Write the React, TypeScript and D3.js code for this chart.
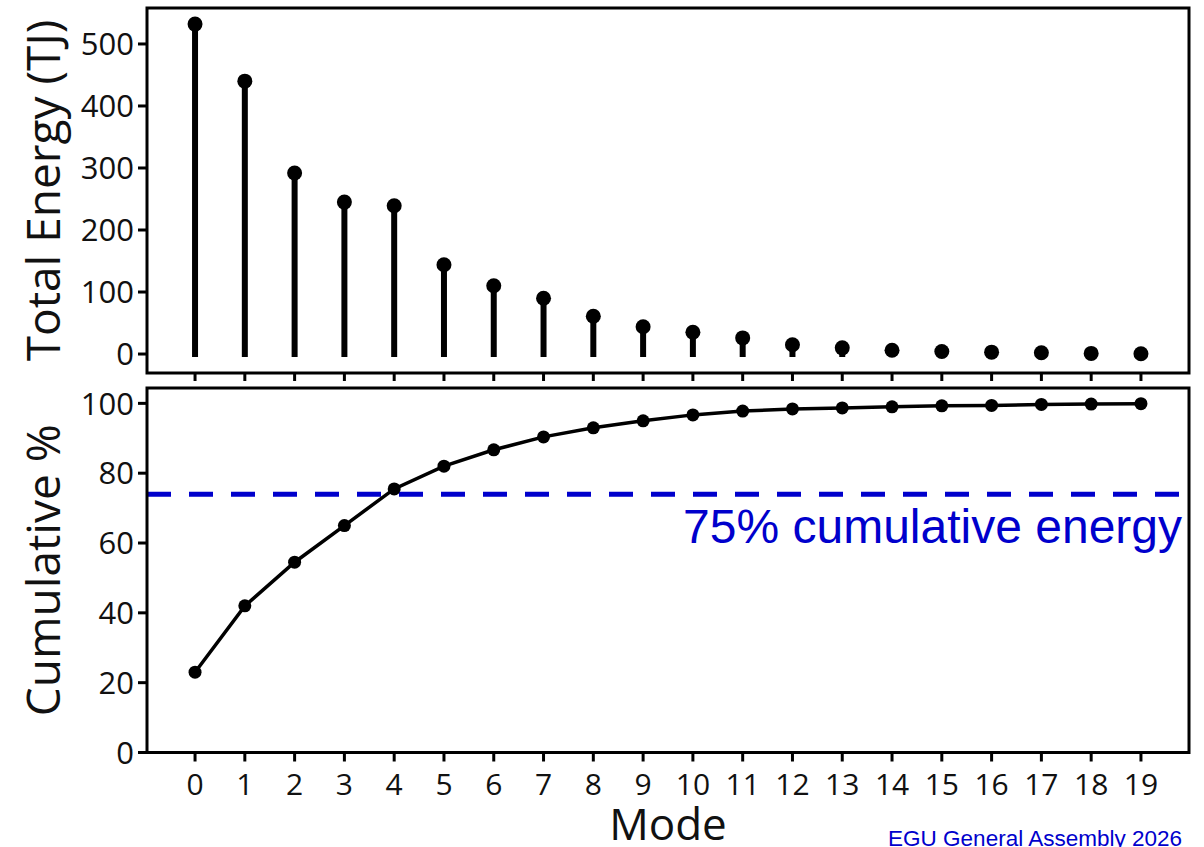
import React from "react";
import * as d3 from "d3";

const modes: number[] = d3.range(0, 20);
const energyTJ: number[] = [532, 440, 292, 245, 239, 144, 110, 90, 61, 44, 35, 26, 15, 10, 6, 4, 3, 2, 1, 0.5];
const cumulativePct: number[] = [23, 42, 54.5, 65, 75.5, 82, 86.7, 90.4, 93, 95, 96.7, 97.8, 98.4, 98.7, 99.0, 99.3, 99.4, 99.7, 99.8, 99.9];
const energyTicks: number[] = [0, 100, 200, 300, 400, 500];
const cumTicks: number[] = [0, 20, 40, 60, 80, 100];
const thresholdPct = 74;
const thresholdLabel = "75% cumulative energy";
const footer = "EGU General Assembly 2026";

const W = 1204;
const H = 847;
const L = 147;
const R = 1189;
const top1 = 8, bot1 = 373;
const top2 = 388, bot2 = 752.5;

const tickFont = "'Open Sans', 'Noto Sans', sans-serif";
const ink = "#111";

export default function App() {
  const x = d3.scaleLinear().domain([-0.965, 19.965]).range([L, R]);
  const y1 = d3.scaleLinear().domain([-30.6, 558]).range([bot1, top1]);
  const y2 = d3.scaleLinear().domain([0, 104.4]).range([bot2, top2]);

  const line = d3
    .line<number>()
    .x((_, i) => x(modes[i]))
    .y((d) => y2(d));

  return (
    <svg
      width={W}
      height={H}
      style={{ position: "absolute", left: 0, top: 0, background: "#fff" }}
    >
      <rect x={0} y={0} width={W} height={H} fill="#fff" />

      {/* ---------- Top panel ---------- */}
      {energyTJ.map((v, i) => (
        <line
          key={"stem" + i}
          x1={x(modes[i])}
          x2={x(modes[i])}
          y1={y1(0) + 3}
          y2={y1(v)}
          stroke="#000"
          strokeWidth={6}
        />
      ))}
      {energyTJ.map((v, i) => (
        <circle key={"pt" + i} cx={x(modes[i])} cy={y1(v)} r={7.5} fill="#000" />
      ))}
      <rect x={L} y={top1} width={R - L} height={bot1 - top1} fill="none" stroke="#000" strokeWidth={3} />
      {energyTicks.map((t) => (
        <g key={"et" + t}>
          <line x1={L - 9} x2={L} y1={y1(t)} y2={y1(t)} stroke="#000" strokeWidth={3} />
          <text
            x={L - 13}
            y={y1(t)}
            dy="0.36em"
            textAnchor="end"
            fontFamily={tickFont}
            fontSize={31}
            fill={ink}
          >
            {t}
          </text>
        </g>
      ))}
      {modes.map((m) => (
        <line key={"tx1" + m} x1={x(m)} x2={x(m)} y1={bot1} y2={bot1 + 8} stroke="#000" strokeWidth={3} />
      ))}
      <text
        transform={`translate(${60},${(top1 + bot1) / 2}) rotate(-90)`}
        textAnchor="middle"
        fontFamily={tickFont}
        fontSize={46}
        fill={ink}
      >
        Total Energy (TJ)
      </text>

      {/* ---------- Bottom panel ---------- */}
      <line
        x1={L}
        x2={R}
        y1={y2(thresholdPct)}
        y2={y2(thresholdPct)}
        stroke="#0000CC"
        strokeWidth={5}
        strokeDasharray="24 18"
      />
      <text
        x={1182}
        y={543}
        textAnchor="end"
        fontFamily="'Liberation Sans', Arial, sans-serif"
        fontSize={48}
        fill="#0000CC"
      >
        {thresholdLabel}
      </text>
      <path d={line(cumulativePct) || ""} fill="none" stroke="#000" strokeWidth={3.5} />
      {cumulativePct.map((v, i) => (
        <circle key={"cp" + i} cx={x(modes[i])} cy={y2(v)} r={6.5} fill="#000" />
      ))}
      <rect x={L} y={top2} width={R - L} height={bot2 - top2} fill="none" stroke="#000" strokeWidth={3} />
      {cumTicks.map((t) => (
        <g key={"ct" + t}>
          <line x1={L - 9} x2={L} y1={y2(t)} y2={y2(t)} stroke="#000" strokeWidth={3} />
          <text
            x={L - 13}
            y={y2(t)}
            dy="0.36em"
            textAnchor="end"
            fontFamily={tickFont}
            fontSize={31}
            fill={ink}
          >
            {t}
          </text>
        </g>
      ))}
      {modes.map((m) => (
        <g key={"tx2" + m}>
          <line x1={x(m)} x2={x(m)} y1={bot2} y2={bot2 + 9} stroke="#000" strokeWidth={3} />
          <text
            x={x(m)}
            y={795}
            textAnchor="middle"
            fontFamily={tickFont}
            fontSize={30}
            fill={ink}
          >
            {m}
          </text>
        </g>
      ))}
      <text
        transform={`translate(${60},${(top2 + bot2) / 2}) rotate(-90)`}
        textAnchor="middle"
        fontFamily={tickFont}
        fontSize={46}
        fill={ink}
      >
        Cumulative %
      </text>
      <text
        x={(L + R) / 2}
        y={840}
        textAnchor="middle"
        fontFamily={tickFont}
        fontSize={44}
        fill={ink}
      >
        Mode
      </text>

      <text
        x={1182}
        y={846}
        textAnchor="end"
        fontFamily="'Liberation Sans', Arial, sans-serif"
        fontSize={22.5}
        fill="#0000CC"
      >
        {footer}
      </text>
    </svg>
  );
}
